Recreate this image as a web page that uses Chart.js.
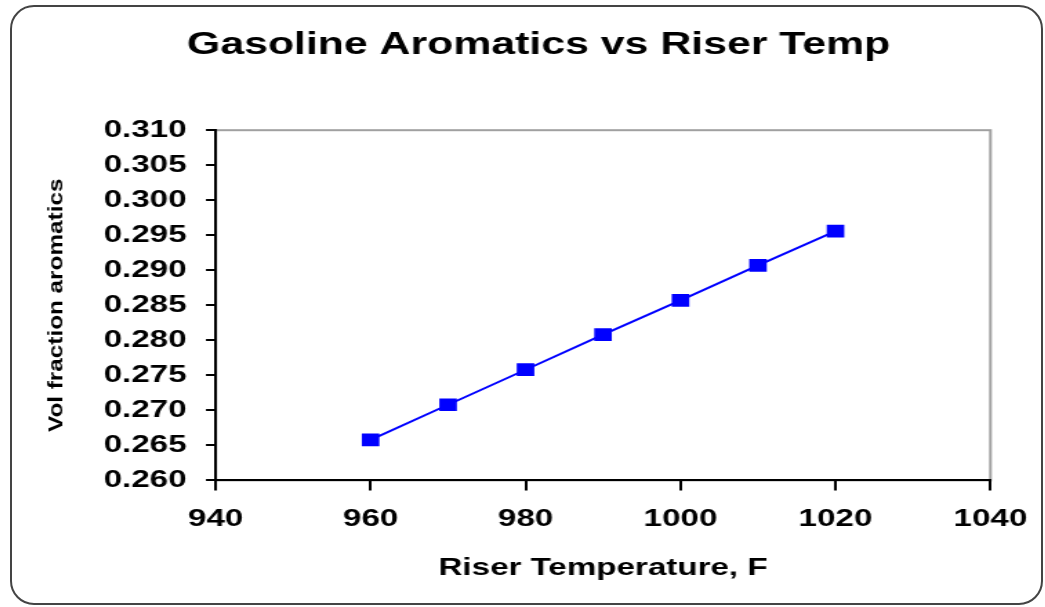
<!DOCTYPE html>
<html>
<head>
<meta charset="utf-8">
<title>Gasoline Aromatics vs Riser Temp</title>
<script src="https://cdn.jsdelivr.net/npm/chart.js@4.4.1/dist/chart.umd.min.js"></script>
<style>
  html, body { margin: 0; padding: 0; background: #fff; overflow: hidden; }
  body { width: 1045px; height: 607px; position: relative; }
  #frame {
    position: absolute; left: 10px; top: 5px;
    width: 1033px; height: 600px; box-sizing: border-box;
    border: 2px solid #444; border-radius: 24px;
  }
  #chart { position: absolute; left: 25px; top: 0; }
</style>
</head>
<body>
<div id="frame"></div>
<!-- the source picture is stretched sideways, so the canvas is too (inline size so Chart.js keeps it) -->
<canvas id="chart" width="741" height="607" style="width:1023px;height:607px"></canvas>
<script>
// ── DATA ────────────────────────────────────────────────
const CHART_TITLE = "Gasoline Aromatics vs Riser Temp";
const X_TITLE     = "Riser Temperature, F";
const Y_TITLE     = "Vol fraction aromatics";

const TEMPS     = [960, 970, 980, 990, 1000, 1010, 1020];
const AROMATICS = [0.2658, 0.2708, 0.2758, 0.2808, 0.2857, 0.2907, 0.2956];

const X_MIN = 940,  X_MAX = 1040, X_STEP = 20;
const Y_MIN = 0.26, Y_MAX = 0.31, Y_STEP = 0.005;

const FONT = '"Liberation Sans", Arial, Helvetica, sans-serif';

// ── PLUGINS ─────────────────────────────────────────────
// gray box round the plot, the black axes are drawn on top of it
const plotFrame = {
  id: "plotFrame",
  beforeDraw(chart) {
    const { ctx, chartArea: a } = chart;
    ctx.save();
    ctx.strokeStyle = "#a0a0a0";
    ctx.lineWidth = 2;
    ctx.strokeRect(a.left, a.top, a.right - a.left, a.bottom - a.top);
    ctx.restore();
  },
};

// tall narrow y title, as in the source
const yTitle = {
  id: "yTitle",
  afterDraw(chart) {
    const { ctx, chartArea: a } = chart;
    ctx.save();
    ctx.translate(23, (a.top + a.bottom) / 2);
    ctx.rotate(-Math.PI / 2);
    ctx.scale(1.62, 1);
    ctx.font = `bold 15px ${FONT}`;
    ctx.fillStyle = "#000";
    ctx.textAlign = "center";
    ctx.textBaseline = "middle";
    ctx.fillText(Y_TITLE, 0, 0);
    ctx.restore();
  },
};

// ── CHART ───────────────────────────────────────────────
new Chart(document.getElementById("chart"), {
  type: "line",
  data: {
    datasets: [{
      label:                Y_TITLE,
      data:                 TEMPS.map((t, i) => ({ x: t, y: AROMATICS[i] })),
      borderColor:          "#0000ff",
      borderWidth:          2,
      pointStyle:           "rect",
      pointRadius:          9,
      pointBackgroundColor: "#0000ff",
      pointBorderColor:     "#0000ff",
      pointBorderWidth:     0,
      tension:              0,
      fill:                 false,
    }],
  },
  options: {
    responsive: false,
    animation:  false,
    layout: { padding: { left: 43, right: 40, top: 0, bottom: 24 } },
    plugins: {
      legend:  { display: false },
      tooltip: { enabled: false },
      title: {
        display: true,
        text:    CHART_TITLE,
        color:   "#000",
        font:    { family: FONT, size: 31, weight: "bold" },
        padding: { top: 27, bottom: 66 },
      },
    },
    scales: {
      x: {
        type: "linear",
        min:  X_MIN,
        max:  X_MAX,
        border: { display: true, color: "#000", width: 2 },
        grid:   { drawOnChartArea: false, drawTicks: true, tickLength: 10, color: "#000", lineWidth: 2 },
        ticks: {
          stepSize: X_STEP,
          color:    "#000",
          padding:  15,
          font:     { family: FONT, size: 24, weight: "bold" },
          callback: v => String(v),
        },
        title: {
          display: true,
          text:    X_TITLE,
          color:   "#000",
          font:    { family: FONT, size: 24, weight: "bold" },
          padding: { top: 5, bottom: 0 },
        },
      },
      y: {
        min: Y_MIN,
        max: Y_MAX,
        border: { display: true, color: "#000", width: 2 },
        grid:   { drawOnChartArea: false, drawTicks: true, tickLength: 7, color: "#000", lineWidth: 2 },
        ticks: {
          stepSize: Y_STEP,
          autoSkip: false,
          color:    "#000",
          padding:  14,
          font:     { family: FONT, size: 24, weight: "bold" },
          callback: v => v.toFixed(3),
        },
      },
    },
  },
  plugins: [plotFrame, yTitle],
});
</script>
</body>
</html>
